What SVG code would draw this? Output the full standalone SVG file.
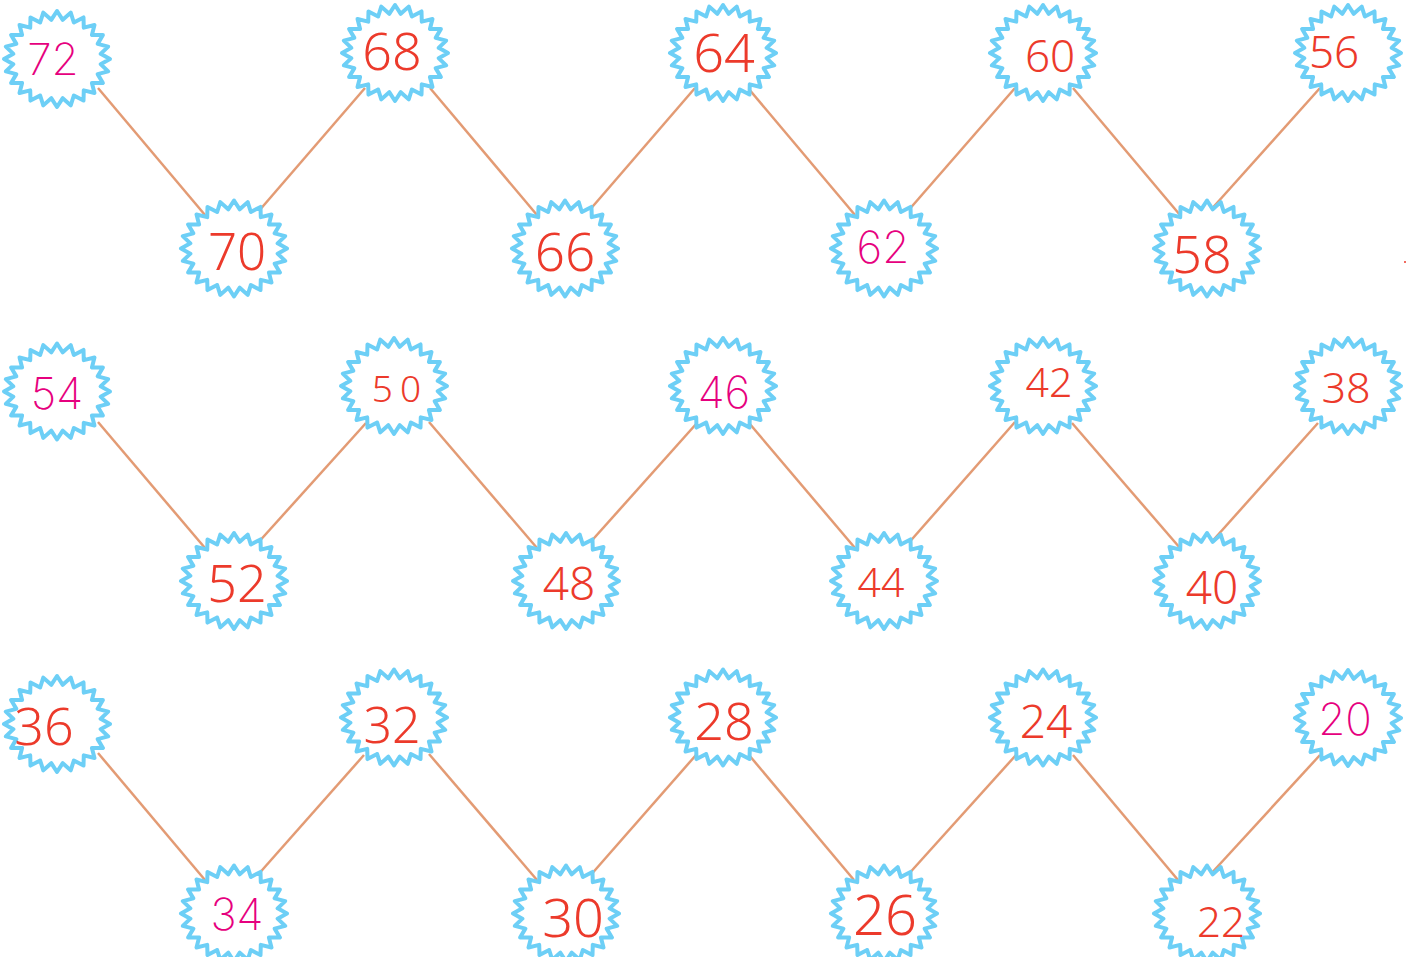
<svg xmlns="http://www.w3.org/2000/svg" xmlns:xlink="http://www.w3.org/1999/xlink" width="1426" height="957" viewBox="0 0 1426 957">
<style>
.star{fill:#ffffff;stroke:#6dcff6;stroke-width:4;stroke-linejoin:round}
.c line{stroke:#e39b74;stroke-width:2.5;stroke-linecap:butt}
.r{font-family:"Noto Sans","Open Sans",sans-serif;fill:#ec3a2b;text-anchor:middle;font-weight:300}
.m{font-family:Inter,Lato,"Noto Sans",sans-serif;font-weight:200;fill:#e6007e;text-anchor:middle;font-size:44px}
</style>
<defs>
<path id="star" class="star" d="M53,0 L43.62,5.16 L51.19,12.42 L40.65,15.12 L45.90,24 L34.91,24.05 L37.48,33.94 L26.79,31.34 L26.5,41.57 L16.84,36.49 L13.72,46.36 L5.74,39.16 L0,48 L-5.74,39.16 L-13.72,46.36 L-16.84,36.49 L-26.5,41.57 L-26.79,31.34 L-37.48,33.94 L-34.91,24.05 L-45.90,24 L-40.65,15.12 L-51.19,12.42 L-43.62,5.16 L-53,0 L-43.62,-5.16 L-51.19,-12.42 L-40.65,-15.12 L-45.90,-24 L-34.91,-24.05 L-37.48,-33.94 L-26.79,-31.34 L-26.5,-41.57 L-16.84,-36.49 L-13.72,-46.36 L-5.74,-39.16 L0,-48 L5.74,-39.16 L13.72,-46.36 L16.84,-36.49 L26.5,-41.57 L26.79,-31.34 L37.48,-33.94 L34.91,-24.05 L45.90,-24 L40.65,-15.12 L51.19,-12.42 L43.62,-5.16 Z"/>
</defs>
<rect width="1426" height="957" fill="#ffffff"/>
<g id="connectors" class="c">
<line x1="98" y1="88" x2="205" y2="215"/>
<line x1="258" y1="212" x2="365" y2="88"/>
<line x1="430" y1="88" x2="537" y2="215"/>
<line x1="588" y1="212" x2="695" y2="88"/>
<line x1="748" y1="88" x2="855" y2="215"/>
<line x1="907" y1="212" x2="1015" y2="88"/>
<line x1="1073" y1="88" x2="1180" y2="215"/>
<line x1="1208" y1="213" x2="1320" y2="88"/>
<line x1="98" y1="422" x2="205" y2="548"/>
<line x1="256" y1="545" x2="366" y2="423"/>
<line x1="429" y1="422" x2="537" y2="548"/>
<line x1="587" y1="546" x2="697" y2="423"/>
<line x1="749" y1="423" x2="855" y2="548"/>
<line x1="906" y1="546" x2="1015" y2="422"/>
<line x1="1072" y1="423" x2="1180" y2="548"/>
<line x1="1208" y1="546" x2="1318" y2="423"/>
<line x1="98" y1="753" x2="205" y2="880"/>
<line x1="256" y1="877" x2="364" y2="755"/>
<line x1="429" y1="754" x2="537" y2="880"/>
<line x1="589" y1="877" x2="696" y2="755"/>
<line x1="749" y1="755" x2="854" y2="880"/>
<line x1="906" y1="877" x2="1016" y2="755"/>
<line x1="1073" y1="755" x2="1178" y2="880"/>
<line x1="1208" y1="877" x2="1320" y2="755"/>
</g>
<g id="n72"><use xlink:href="#star" x="57" y="59"/><text class="m" x="53" y="75">72</text></g>
<g id="n70"><use xlink:href="#star" x="234" y="248.5"/><text class="r" x="237" y="270" font-size="51">70</text></g>
<g id="n68"><use xlink:href="#star" x="395" y="53"/><text class="r" x="392" y="70" font-size="52">68</text></g>
<g id="n66"><use xlink:href="#star" x="565" y="248.5"/><text class="r" x="565" y="271" font-size="53">66</text></g>
<g id="n64"><use xlink:href="#star" x="723" y="53"/><text class="r" x="724" y="72" font-size="54">64</text></g>
<g id="n62"><use xlink:href="#star" x="884" y="248.5"/><text class="m" x="883" y="263">62</text></g>
<g id="n60"><use xlink:href="#star" x="1043" y="53"/><text class="r" x="1050" y="72" font-size="44">60</text></g>
<g id="n58"><use xlink:href="#star" x="1207" y="248.5"/><text class="r" x="1202" y="273" font-size="52">58</text></g>
<g id="n56"><use xlink:href="#star" x="1348" y="53"/><text class="r" x="1334" y="68" font-size="44">56</text></g>
<g id="n54"><use xlink:href="#star" x="57" y="391.5"/><text class="m" x="57" y="409">54</text></g>
<g id="n52"><use xlink:href="#star" x="234" y="581"/><text class="r" x="237" y="602" font-size="52">52</text></g>
<g id="n50"><use xlink:href="#star" x="394" y="386"/><text class="r" x="400" y="402" font-size="37" letter-spacing="7">50</text></g>
<g id="n48"><use xlink:href="#star" x="566" y="581"/><text class="r" x="569" y="600" font-size="46">48</text></g>
<g id="n46"><use xlink:href="#star" x="723" y="386"/><text class="m" x="724" y="408">46</text></g>
<g id="n44"><use xlink:href="#star" x="884" y="581"/><text class="r" x="881" y="597" font-size="41">44</text></g>
<g id="n42"><use xlink:href="#star" x="1043" y="386"/><text class="r" x="1049" y="397" font-size="41">42</text></g>
<g id="n40"><use xlink:href="#star" x="1207" y="581"/><text class="r" x="1212" y="604" font-size="46">40</text></g>
<g id="n38"><use xlink:href="#star" x="1348" y="386"/><text class="r" x="1346" y="403" font-size="43">38</text></g>
<g id="n36"><use xlink:href="#star" x="57" y="724"/><text class="r" x="44" y="745" font-size="52">36</text></g>
<g id="n34"><use xlink:href="#star" x="234" y="913.5"/><text class="m" x="237" y="930">34</text></g>
<g id="n32"><use xlink:href="#star" x="394" y="717.5"/><text class="r" x="392" y="743" font-size="50">32</text></g>
<g id="n30"><use xlink:href="#star" x="566" y="913.5"/><text class="r" x="573" y="937" font-size="54">30</text></g>
<g id="n28"><use xlink:href="#star" x="723" y="717.5"/><text class="r" x="724" y="740" font-size="52">28</text></g>
<g id="n26"><use xlink:href="#star" x="884" y="913.5"/><text class="r" x="885" y="935" font-size="56">26</text></g>
<g id="n24"><use xlink:href="#star" x="1043" y="717.5"/><text class="r" x="1046" y="738" font-size="46">24</text></g>
<g id="n22"><use xlink:href="#star" x="1207" y="913.5"/><text class="r" x="1221" y="937" font-size="42">22</text></g>
<g id="n20"><use xlink:href="#star" x="1348" y="718"/><text class="m" x="1345" y="735">20</text></g>
<circle cx="1405" cy="262" r="1" fill="#ec3a2b"/>
</svg>
